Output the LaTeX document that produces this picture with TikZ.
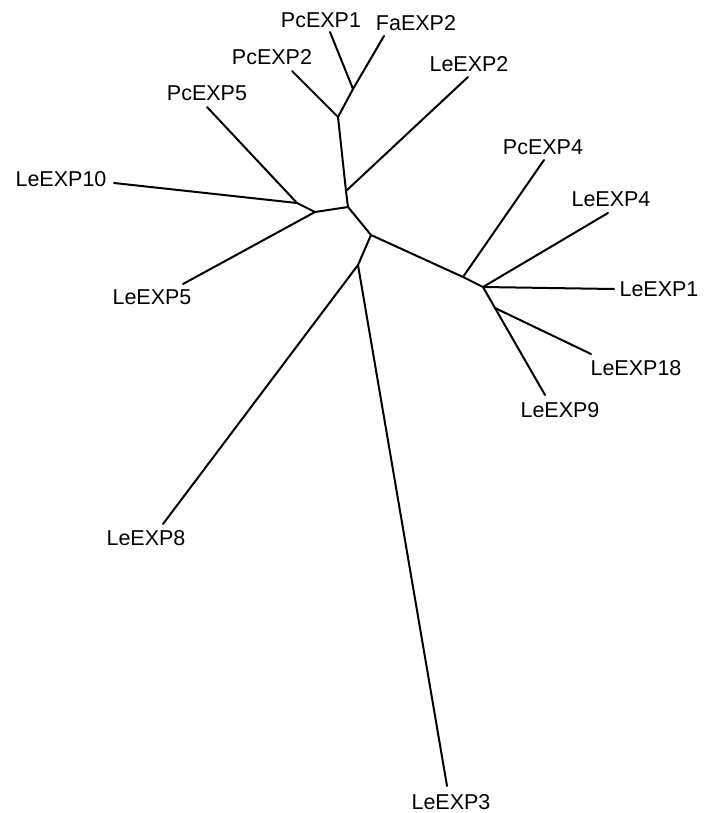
\documentclass[tikz,border=0pt]{standalone}
\usepackage{fontspec}
\setmainfont{Liberation Sans}
\usetikzlibrary{positioning,calc}

\begin{document}
\begin{tikzpicture}[x=1pt,y=-1pt,line width=2pt,line cap=round,
    leaf/.style={inner sep=0pt,font=\fontsize{21.5}{24}\selectfont}]
    \useasboundingbox (0,0) rectangle (712,813);

    % inner nodes
    \coordinate (c)  at (348,207);
    \coordinate (u1) at (346,191);
    \coordinate (u2) at (338,117);
    \coordinate (u3) at (353,89);
    \coordinate (l1) at (315,212);
    \coordinate (l2) at (297,203);
    \coordinate (d1) at (371,235);
    \coordinate (d2) at (358,265);
    \coordinate (r1) at (463,277);
    \coordinate (r2) at (483,287);
    \coordinate (r3) at (495,308);

    % leaf tips
    \coordinate (tPcEXP1)  at (330,32);
    \coordinate (tFaEXP2)  at (384,36);
    \coordinate (tPcEXP2)  at (292,71);
    \coordinate (tLeEXP2)  at (468,77);
    \coordinate (tPcEXP5)  at (207,107);
    \coordinate (tLeEXP10) at (114,183);
    \coordinate (tLeEXP5)  at (183,284);
    \coordinate (tPcEXP4)  at (544,160);
    \coordinate (tLeEXP4)  at (608,213);
    \coordinate (tLeEXP1)  at (614,289);
    \coordinate (tLeEXP18) at (591,354);
    \coordinate (tLeEXP9)  at (545,395);
    \coordinate (tLeEXP8)  at (163,524);
    \coordinate (tLeEXP3)  at (447,786);

    \node[leaf] (PcEXP1)  at (321,20)  {PcEXP1};
    \node[leaf] (FaEXP2)  at (416,23)  {FaEXP2};
    \node[leaf] (PcEXP2)  at (272,57)  {PcEXP2};
    \node[leaf] (LeEXP2)  at (469,64)  {LeEXP2};
    \node[leaf] (PcEXP5)  at (207,93)  {PcEXP5};
    \node[leaf] (LeEXP10) at (61,179)  {LeEXP10};
    \node[leaf] (LeEXP5)  at (152,297) {LeEXP5};
    \node[leaf] (PcEXP4)  at (543,147) {PcEXP4};
    \node[leaf] (LeEXP4)  at (611,199) {LeEXP4};
    \node[leaf] (LeEXP1)  at (659,289) {LeEXP1};
    \node[leaf] (LeEXP18) at (636,368) {LeEXP18};
    \node[leaf] (LeEXP9)  at (560,410) {LeEXP9};
    \node[leaf] (LeEXP8)  at (146,538) {LeEXP8};
    \node[leaf] (LeEXP3)  at (451,802) {LeEXP3};

    \path (c)  edge (u1)
          (u1) edge (u2)
          (u2) edge (u3)
          (u3) edge (tPcEXP1)
          (u3) edge (tFaEXP2)
          (u2) edge (tPcEXP2)
          (u1) edge (tLeEXP2);

    \path (c)  edge (l1)
          (l1) edge (l2)
          (l2) edge (tPcEXP5)
          (l2) edge (tLeEXP10)
          (l1) edge (tLeEXP5);

    \path (c)  edge (d1)
          (d1) edge (d2)
          (d2) edge (tLeEXP8)
          (d2) edge (tLeEXP3)
          (d1) edge (r1)
          (r1) edge (tPcEXP4)
          (r1) edge (r2)
          (r2) edge (tLeEXP4)
          (r2) edge (tLeEXP1)
          (r2) edge (r3)
          (r3) edge (tLeEXP18)
          (r3) edge (tLeEXP9);
\end{tikzpicture}
\end{document}
